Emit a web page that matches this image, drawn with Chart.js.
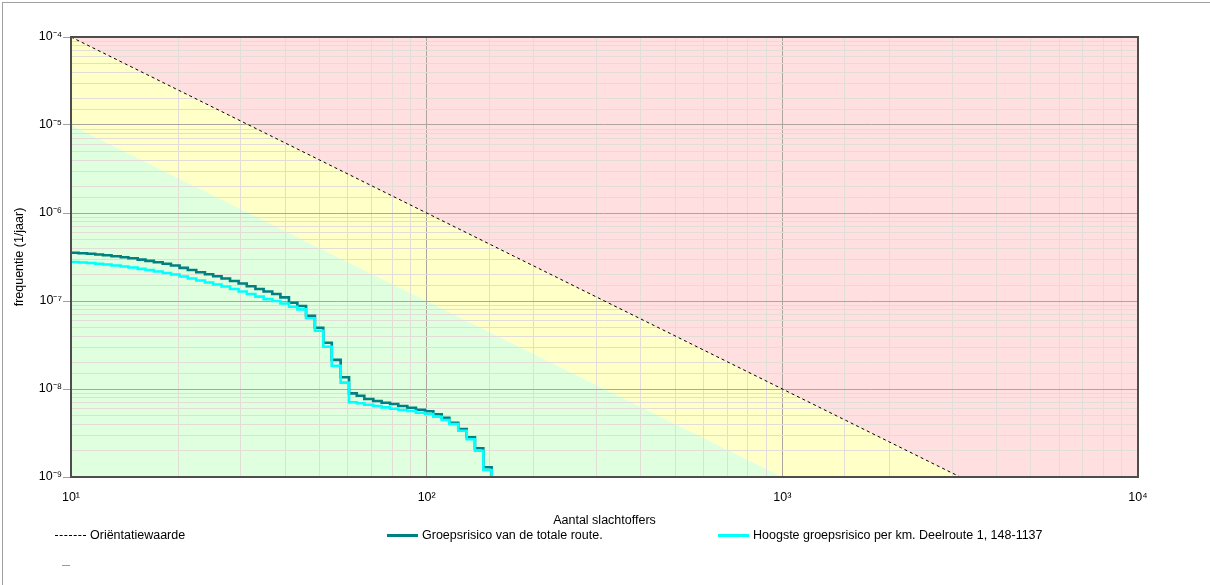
<!DOCTYPE html>
<html lang="nl">
<head>
<meta charset="utf-8">
<title>Groepsrisico</title>
<script src="https://cdn.jsdelivr.net/npm/chart.js@4/dist/chart.umd.min.js"></script>
<style>
  html, body { margin: 0; padding: 0; background: #fff; }
  #page { position: relative; width: 1210px; height: 585px; overflow: hidden;
          font-family: "Liberation Sans", Arial, sans-serif; }
  #frame { position: absolute; left: 2px; top: 2px; right: 0; bottom: 0;
           border-top: 1px solid #a0a0a0; border-left: 1px solid #a0a0a0; pointer-events: none; }
  #box { position: absolute; left: 0; top: 0; width: 1210px; height: 585px; }
  #legend { position: absolute; left: 0; top: 527px; width: 1210px; height: 50px;
            font-size: 12.5px; color: #000; }
  .item { position: absolute; display: flex; align-items: center; height: 16px; white-space: nowrap; }
  .swatch { width: 31px; height: 0; margin-right: 4px; }
</style>
</head>
<body>
<div id="page">
  <div id="box"><canvas id="fn"></canvas></div>
  <div id="legend"></div>
  <div id="frame"></div>
</div>
<script>
// Number of victims at which the FN step curves change level
const victims = [10, 10.5, 11.1, 11.7, 12.3, 13.0, 13.8, 14.5, 15.4, 16.2,
                 17.1, 18.1, 19.1, 20.2, 21.3, 22.5, 23.8, 25.1, 26.5, 28.0,
                 29.6, 31.2, 33.0, 34.8, 36.8, 38.8, 41.0, 43.3, 45.8, 48.5,
                 51.2, 54.1, 57.3, 60.5, 63.6, 66.8, 70.8, 74.7, 78.9, 83.2,
                 88.2, 93.3, 98.9, 104.4, 110.2, 115.8, 122.7, 129.6, 136.7, 144.3,
                 152.3];

// Cumulative frequency (1/jaar) for the whole route
const freqTotalRoute = [3.54e-7, 3.49e-7, 3.44e-7, 3.38e-7, 3.31e-7, 3.23e-7, 3.14e-7, 3.06e-7, 2.955e-7, 2.86e-7,
                        2.76e-7, 2.65e-7, 2.53e-7, 2.38e-7, 2.25e-7, 2.12e-7, 2.01e-7, 1.91e-7, 1.80e-7, 1.69e-7,
                        1.58e-7, 1.47e-7, 1.37e-7, 1.28e-7, 1.20e-7, 1.10e-7, 9.57e-8, 8.77e-8, 6.81e-8, 4.97e-8,
                        3.36e-8, 2.14e-8, 1.36e-8, 8.93e-9, 8.39e-9, 7.70e-9, 7.31e-9, 6.99e-9, 6.75e-9, 6.41e-9,
                        6.13e-9, 5.82e-9, 5.58e-9, 5.16e-9, 4.72e-9, 4.14e-9, 3.51e-9, 2.83e-9, 2.12e-9, 1.29e-9,
                        5e-10];

// Cumulative frequency (1/jaar) for the worst kilometre of Deelroute 1
const freqWorstKm = [2.77e-7, 2.74e-7, 2.70e-7, 2.65e-7, 2.60e-7, 2.53e-7, 2.47e-7, 2.40e-7, 2.32e-7, 2.25e-7,
                     2.16e-7, 2.08e-7, 2.00e-7, 1.90e-7, 1.80e-7, 1.71e-7, 1.62e-7, 1.54e-7, 1.46e-7, 1.37e-7,
                     1.28e-7, 1.20e-7, 1.12e-7, 1.05e-7, 1.00e-7, 9.37e-8, 8.61e-8, 8.04e-8, 6.36e-8, 4.60e-8,
                     3.02e-8, 1.83e-8, 1.18e-8, 7.06e-9, 6.88e-9, 6.63e-9, 6.41e-9, 6.19e-9, 5.97e-9, 5.77e-9,
                     5.62e-9, 5.38e-9, 5.20e-9, 4.84e-9, 4.44e-9, 4.00e-9, 3.36e-9, 2.68e-9, 1.99e-9, 1.20e-9,
                     5e-10];

// Orientatiewaarde (F = 10^-2 / N^2) and the band one decade below it
const normVictims = [10, 10000];
const orientationFreq = [1e-4, 1e-10];
const lowerBandFreq = [1e-5, 1e-11];

// Axis tick labels (decades only)
const xExponents = [1, 2, 3, 4];
const xTickLabels = ['10\u00B9', '10\u00B2', '10\u00B3', '10\u2074'];
const yExponents = [-9, -8, -7, -6, -5, -4];
const yTickLabels = ['10\u207B\u2079', '10\u207B\u2078', '10\u207B\u2077', '10\u207B\u2076', '10\u207B\u2075', '10\u207B\u2074'];

const pairs = (xs, ys) => xs.map((x, i) => ({ x: x, y: ys[i] }));
const isDecade = v => Math.abs(Math.log10(v) - Math.round(Math.log10(v))) < 1e-6;
const decadeLabel = (v, exps, labels) => {
  if (!isDecade(v)) return '';
  const i = exps.indexOf(Math.round(Math.log10(v)));
  return i < 0 ? '' : labels[i];
};
const gridColor = ctx => (ctx.tick && isDecade(ctx.tick.value)) ? '#aca69f' : '#e2ddd7';

Chart.defaults.font.family = '"Liberation Sans", Arial, sans-serif';
Chart.defaults.font.size = 12.5;
Chart.defaults.color = '#000';

// Dark box around the plotting area
const plotFrame = {
  id: 'plotFrame',
  afterDatasetsDraw(chart) {
    const { ctx, chartArea: a } = chart;
    ctx.save();
    ctx.strokeStyle = '#4d4d4d';
    ctx.lineWidth = 2;
    ctx.strokeRect(a.left, a.top, a.right - a.left, a.bottom - a.top);
    ctx.restore();
  }
};

const chart = new Chart(document.getElementById('fn'), {
  type: 'line',
  data: {
    datasets: [
      {
        label: 'Oriëntatiewaarde',
        data: pairs(normVictims, orientationFreq),
        borderColor: '#000', borderWidth: 1, borderDash: [3, 3],
        pointRadius: 0, fill: 'end', backgroundColor: '#ffdfe0', order: 0
      },
      {
        label: 'Groepsrisico van de totale route.',
        data: pairs(victims, freqTotalRoute),
        borderColor: '#008080', borderWidth: 2.6, stepped: 'before',
        pointRadius: 0, fill: false, order: 2
      },
      {
        label: 'Hoogste groepsrisico per km. Deelroute 1, 148-1137',
        data: pairs(victims, freqWorstKm),
        borderColor: '#00ffff', borderWidth: 2.6, stepped: 'before',
        pointRadius: 0, fill: false, order: 1
      },
      {
        // yellow band: everything above the lower line; the red zone is painted over it
        data: pairs(normVictims, lowerBandFreq),
        borderColor: 'rgba(0,0,0,0)', borderWidth: 1,
        pointRadius: 0, fill: 'end', backgroundColor: '#ffffc8', order: 3
      },
      {
        data: pairs(normVictims, lowerBandFreq),
        borderColor: 'rgba(0,0,0,0)', borderWidth: 1,
        pointRadius: 0, fill: 'start', backgroundColor: '#dfffdf', order: 4
      }
    ]
  },
  options: {
    responsive: true,
    maintainAspectRatio: false,
    animation: false,
    events: [],
    layout: { padding: { top: 37, right: 72, bottom: 48, left: 0 } },
    plugins: {
      legend: { display: false },
      tooltip: { enabled: false },
      filler: { drawTime: 'beforeDraw' }
    },
    scales: {
      x: {
        type: 'logarithmic', min: 10, max: 10000,
        afterFit: s => { s.height = 60; },
        border: { display: false },
        grid: { color: gridColor, tickColor: 'rgba(0,0,0,0)', tickLength: 6, lineWidth: 1 },
        ticks: {
          autoSkip: false, maxRotation: 0, padding: 7, color: '#000',
          callback: v => decadeLabel(v, xExponents, xTickLabels)
        },
        title: { display: true, text: 'Aantal slachtoffers', color: '#000', padding: { top: 0, bottom: 9 } }
      },
      y: {
        type: 'logarithmic', min: 1e-9, max: 1e-4,
        afterFit: s => { s.width = 71; },
        border: { display: false },
        grid: {
          color: gridColor, lineWidth: 1, tickLength: 8,
          tickColor: ctx => (ctx.tick && isDecade(ctx.tick.value)) ? '#a0a0a0' : 'rgba(0,0,0,0)'
        },
        ticks: {
          autoSkip: false, padding: 1, color: '#000',
          callback: v => decadeLabel(v, yExponents, yTickLabels)
        },
        title: { display: true, text: 'frequentie (1/jaar)', color: '#000', padding: { top: 12, bottom: 0 } }
      }
    }
  },
  plugins: [plotFrame]
});

// Legend laid out in three fixed columns below the axis title
const legendEl = document.getElementById('legend');
const columns = [55, 387, 718];
chart.data.datasets.filter(d => d.label).forEach((d, i) => {
  const item = document.createElement('div');
  item.className = 'item';
  item.style.left = columns[i] + 'px';
  item.style.top = '0px';
  const sw = document.createElement('span');
  sw.className = 'swatch';
  const w = Math.max(1, Math.round(d.borderWidth));
  sw.style.borderTop = w + 'px ' + (d.borderDash ? 'dashed ' : 'solid ') + d.borderColor;
  const txt = document.createElement('span');
  txt.textContent = d.label;
  item.appendChild(sw);
  item.appendChild(txt);
  legendEl.appendChild(item);
});
// Empty fourth legend entry
const extra = document.createElement('div');
extra.className = 'item';
extra.style.left = '62px';
extra.style.top = '30px';
const extraSw = document.createElement('span');
extraSw.className = 'swatch';
extraSw.style.width = '8px';
extraSw.style.borderTop = '1px solid #9a9a9a';
extra.appendChild(extraSw);
legendEl.appendChild(extra);
</script>
</body>
</html>
